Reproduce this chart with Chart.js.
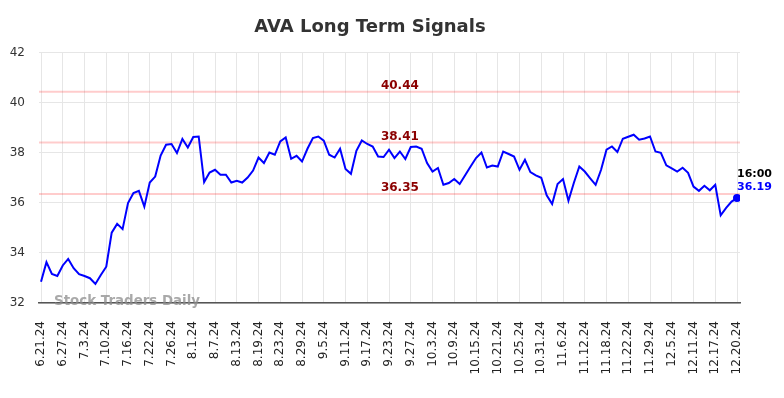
<html lang="en">
<head>
    <meta charset="UTF-8">
    <title>AVA Long Term Signals</title>
<style>
    body {
        margin: 0;
        background-color: #ffffff;
    }

    #chartContainer {
        width: 784px;
        height: 398px;
    }
</style>
</head>
<body>
    <div id="chartContainer">
        <canvas id="signalChart" width="784" height="398"></canvas>
    </div>

    <script src="https://cdn.jsdelivr.net/npm/chart.js"></script>

    <script>
        // Tick labels, one every 4 sessions
        const tickLabels = [
            "6.21.24", "6.27.24", "7.3.24", "7.10.24", "7.16.24", "7.22.24", "7.26.24", "8.1.24",
            "8.7.24", "8.13.24", "8.19.24", "8.23.24", "8.29.24", "9.5.24", "9.11.24", "9.17.24",
            "9.23.24", "9.27.24", "10.3.24", "10.9.24", "10.15.24", "10.21.24", "10.25.24", "10.31.24",
            "11.6.24", "11.12.24", "11.18.24", "11.22.24", "11.29.24", "12.5.24", "12.11.24", "12.17.24",
            "12.20.24"
        ];

        // Closing prices
        const prices = [
            32.85, 33.63, 33.16, 33.08, 33.50, 33.76, 33.39, 33.15, 33.08, 32.99,
            32.76, 33.12, 33.45, 34.81, 35.16, 34.95, 35.99, 36.39, 36.48, 35.85,
            36.81, 37.05, 37.89, 38.32, 38.35, 37.99, 38.55, 38.21, 38.63, 38.65,
            36.83, 37.21, 37.32, 37.12, 37.12, 36.81, 36.88, 36.81, 37.01, 37.29,
            37.81, 37.59, 38.01, 37.92, 38.45, 38.61, 37.76, 37.88, 37.65, 38.16,
            38.59, 38.65, 38.48, 37.92, 37.81, 38.16, 37.35, 37.16, 38.08, 38.49,
            38.35, 38.25, 37.85, 37.83, 38.12, 37.79, 38.05, 37.75, 38.23, 38.25,
            38.16, 37.59, 37.25, 37.39, 36.72, 36.79, 36.95, 36.75, 37.10, 37.45,
            37.79, 38.01, 37.41, 37.49, 37.45, 38.05, 37.95, 37.85, 37.32, 37.72,
            37.23, 37.10, 37.00, 36.30, 35.95, 36.75, 36.95, 36.08, 36.80, 37.45,
            37.25, 36.98, 36.72, 37.32, 38.12, 38.25, 38.03, 38.56, 38.64, 38.72,
            38.52, 38.57, 38.65, 38.05, 38.00, 37.50, 37.38, 37.25, 37.40, 37.20,
            36.65, 36.48, 36.68, 36.50, 36.72, 35.50, 35.80, 36.05, 36.19
        ];

        // Signal levels (horizontal lines)
        const signalLevels = [40.44, 38.41, 36.35];
        const lastTime = "16:00";

        Chart.defaults.font.family = "'DejaVu Sans', sans-serif";

        // Draws the signal lines, the watermark and the last-price label
        const overlayPlugin = {
            id: 'overlay',
            beforeDatasetsDraw(chart) {
                const { ctx, chartArea, scales } = chart;
                ctx.save();
                signalLevels.forEach(level => {
                    const py = scales.y.getPixelForValue(level);
                    ctx.strokeStyle = 'rgba(255, 0, 0, 0.2)';
                    ctx.lineWidth = 2;
                    ctx.beginPath();
                    ctx.moveTo(chartArea.left, py);
                    ctx.lineTo(chartArea.right, py);
                    ctx.stroke();

                    ctx.fillStyle = '#8b0000';
                    ctx.font = "bold 12px 'DejaVu Sans'";
                    ctx.textAlign = 'center';
                    ctx.textBaseline = 'bottom';
                    ctx.fillText(level.toFixed(2), scales.x.getPixelForValue(66), py);
                });
                ctx.restore();
            },
            afterDraw(chart) {
                const { ctx, scales } = chart;
                ctx.save();
                ctx.fillStyle = 'rgba(140, 140, 140, 0.75)';
                ctx.font = "bold 13.4px 'DejaVu Sans'";
                ctx.textAlign = 'left';
                ctx.textBaseline = 'middle';
                ctx.fillText('Stock Traders Daily', 54, 302);

                const last = prices.length - 1;
                const px = scales.x.getPixelForValue(last);
                const py = scales.y.getPixelForValue(prices[last]);
                ctx.font = "bold 11px 'DejaVu Sans'";
                ctx.fillStyle = '#000000';
                ctx.fillText(lastTime, px, py - 24);
                ctx.fillStyle = '#0000ff';
                ctx.fillText(prices[last].toFixed(2), px, py - 11);
                ctx.restore();
            }
        };

        const ctx = document.getElementById('signalChart').getContext('2d');

        const signalChart = new Chart(ctx, {
            type: 'line',
            data: {
                datasets: [{
                    data: prices.map((p, i) => ({ x: i, y: p })),
                    borderColor: '#0000ff',
                    borderWidth: 2,
                    tension: 0,
                    pointRadius: c => (c.dataIndex === prices.length - 1 ? 4 : 0),
                    pointBackgroundColor: '#0000ff',
                    pointBorderWidth: 0
                }]
            },
            options: {
                responsive: false,
                animation: false,
                devicePixelRatio: 1,
                layout: {
                    padding: { top: 0, right: 44, bottom: 0, left: 0 }
                },
                scales: {
                    x: {
                        type: 'linear',
                        min: -0.37,
                        max: 128.55,
                        afterBuildTicks: scale => {
                            scale.ticks = tickLabels.map((t, i) => ({ value: i * 4 }));
                        },
                        afterFit: scale => { scale.height = 95; },
                        ticks: {
                            autoSkip: false,
                            minRotation: 90,
                            maxRotation: 90,
                            padding: 18,
                            color: '#222222',
                            font: { size: 12 },
                            callback: (v, i) => tickLabels[i]
                        },
                        grid: { color: '#e6e6e6', drawTicks: false },
                        border: { color: '#555555', width: 1.5 }
                    },
                    y: {
                        min: 32,
                        max: 42,
                        afterFit: scale => { scale.width = 39; },
                        ticks: {
                            stepSize: 2,
                            padding: 14,
                            color: '#333333',
                            font: { size: 12 }
                        },
                        grid: { color: '#e6e6e6', drawTicks: false },
                        border: { display: false }
                    }
                },
                plugins: {
                    legend: { display: false },
                    tooltip: { enabled: false },
                    title: {
                        display: true,
                        text: 'AVA Long Term Signals',
                        color: '#333333',
                        font: { size: 18, weight: 'bold' },
                        padding: { top: 17, bottom: 14 }
                    }
                }
            },
            plugins: [overlayPlugin]
        });
    </script>
</body>
</html>
